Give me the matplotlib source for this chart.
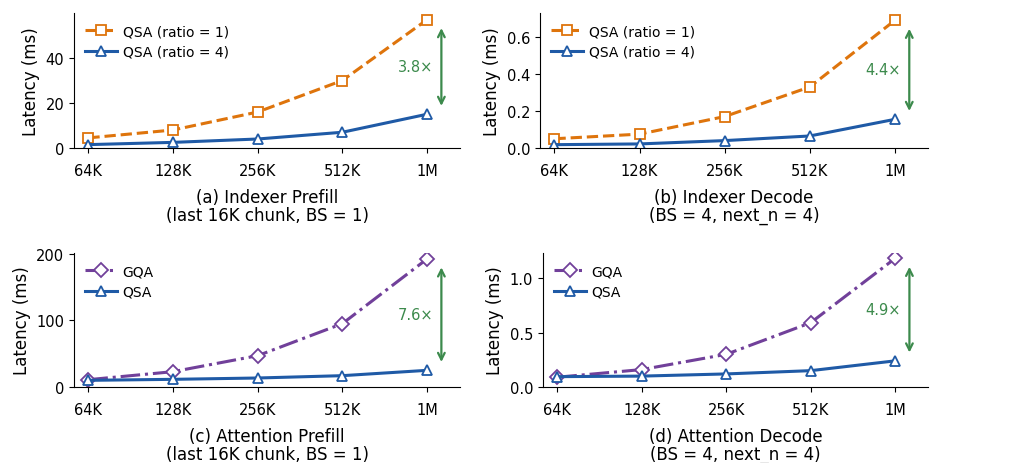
import matplotlib
matplotlib.use("Agg")
import matplotlib.pyplot as plt
import numpy as np

# context lengths on the x axis
seq_labels = ["64K", "128K", "256K", "512K", "1M"]

# (a) indexer prefill, ms
idx_prefill_r1 = [4.5, 8.0, 16.0, 30.0, 57.0]
idx_prefill_r4 = [1.5, 2.5, 4.0, 7.0, 15.0]
# (b) indexer decode, ms
idx_decode_r1 = [0.050, 0.075, 0.170, 0.330, 0.690]
idx_decode_r4 = [0.018, 0.022, 0.040, 0.065, 0.155]
# (c) attention prefill, ms
att_prefill_gqa = [11.0, 23.0, 47.0, 95.0, 192.0]
att_prefill_qsa = [10.0, 11.5, 13.5, 17.0, 25.0]
# (d) attention decode, ms
att_decode_gqa = [0.090, 0.160, 0.300, 0.590, 1.180]
att_decode_qsa = [0.095, 0.100, 0.120, 0.150, 0.240]

speedups = ["3.8×", "4.4×", "7.6×", "4.9×"]
captions = ["(a) Indexer Prefill\n(last 16K chunk, BS = 1)",
            "(b) Indexer Decode\n(BS = 4, next_n = 4)",
            "(c) Attention Prefill\n(last 16K chunk, BS = 1)",
            "(d) Attention Decode\n(BS = 4, next_n = 4)"]

orange = "#DE740C"
blue = "#1F5AA6"
purple = "#71409A"
green = "#3C8A4C"

plt.rcParams["font.family"] = "DejaVu Sans"
plt.rcParams["font.size"] = 10

fig = plt.figure(figsize=(10.28, 4.64), dpi=100)
# axes boxes in pixel terms: [left, bottom, width, height]
W, H = 1028.0, 464.0
boxes = [(74, 149, 386, 135), (540, 149, 388, 135),
         (74, 388, 386, 134), (543, 388, 385, 134)]
axes = [fig.add_axes([l / W, 1 - b / H, w / W, h / H]) for l, b, w, h in boxes]

x = np.arange(len(seq_labels))
panels = [
    (idx_prefill_r1, idx_prefill_r4, "QSA (ratio = 1)", "QSA (ratio = 4)", orange, "s", "--", (0, 60), [0, 20, 40]),
    (idx_decode_r1, idx_decode_r4, "QSA (ratio = 1)", "QSA (ratio = 4)", orange, "s", "--", (0, 0.73), [0.0, 0.2, 0.4, 0.6]),
    (att_prefill_gqa, att_prefill_qsa, "GQA", "QSA", purple, "D", "-.", (0, 201), [0, 100, 200]),
    (att_decode_gqa, att_decode_qsa, "GQA", "QSA", purple, "D", "-.", (0, 1.23), [0.0, 0.5, 1.0]),
]

for i, (ax, p) in enumerate(zip(axes, panels)):
    hi, lo, lab_hi, lab_lo, c_hi, m_hi, ls_hi, ylim, yt = p
    ax.plot(x, hi, ls=ls_hi, color=c_hi, lw=2.2, marker=m_hi, ms=7.5,
            mfc="white", mec=c_hi, mew=1.3, label=lab_hi)
    ax.plot(x, lo, ls="-", color=blue, lw=2.2, marker="^", ms=7.5,
            mfc="white", mec=blue, mew=1.3, label=lab_lo)
    ax.set_xlim(-0.17, 4.39)
    ax.set_ylim(*ylim)
    ax.set_yticks(yt)
    ax.set_xticks(x)
    ax.set_xticklabels(seq_labels)
    ax.tick_params(axis="both", labelsize=10.5)
    ax.tick_params(axis="x", pad=7)
    ax.spines["top"].set_visible(False)
    ax.spines["right"].set_visible(False)
    ax.set_ylabel("Latency (ms)", fontsize=12)
    ax.set_xlabel(captions[i], fontsize=12, labelpad=7.5, linespacing=1.0)
    ax.legend(loc="upper left", frameon=False, fontsize=10,
              handlelength=2.3, handletextpad=0.4, borderaxespad=0.4,
              labelspacing=0.45)
    # speedup arrow at 1M
    ax.annotate("", xy=(4.17, lo[-1]), xytext=(4.17, hi[-1]),
                arrowprops=dict(arrowstyle="<->", color=green, lw=1.6,
                                shrinkA=6, shrinkB=6, mutation_scale=12))
    ax.text(4.07, (hi[-1] + lo[-1]) / 2, speedups[i],
            color=green, ha="right", va="center", fontsize=10.5)

fig.savefig("out.png", dpi=100)
